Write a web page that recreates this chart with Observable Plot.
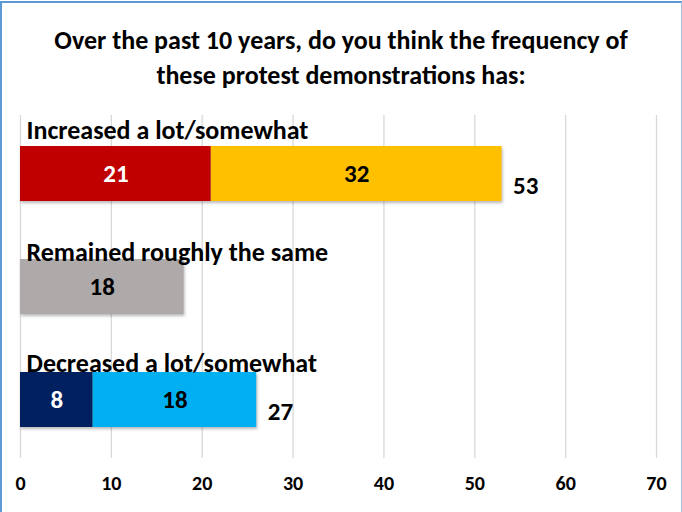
<!DOCTYPE html>
<html>
<head>
<meta charset="utf-8">
<script src="https://cdn.jsdelivr.net/npm/d3@7"></script>
<script src="https://cdn.jsdelivr.net/npm/@observablehq/plot@0.6"></script>
<style>
  html, body { margin: 0; padding: 0; background: #fff; }
  #wrap { position: relative; width: 682px; height: 512px; overflow: hidden; background: #fff;
          font-family: Carlito, Calibri, Lato, sans-serif; }
  #frame { position: absolute; left: 0; top: 1px; right: 0; bottom: -4px; pointer-events: none;
           border-left: 2.5px solid #5b9bd5; border-top: 2.5px solid #5b9bd5; border-right: 1.5px solid #9dc3e6; }
  #title { text-align: center; font-weight: bold; font-size: 26px; line-height: 35px;
           padding-top: 23px; height: 70px; margin-bottom: 12px; color: #000; white-space: nowrap; }
  .bar rect { filter: drop-shadow(1px 2px 1.5px rgba(0,0,0,0.28)); }
</style>
</head>
<body>
<div id="wrap">
  <div id="title">Over the past 10 years, do you think the frequency of<br>these protest demonstrations has:</div>
  <div id="chart"></div>
  <div id="frame"></div>
</div>
<script>
// ---- data ----
const categories = ["Increased a lot/somewhat", "Remained roughly the same", "Decreased a lot/somewhat"];
const firstValues = [21, 18, 8];
const secondValues = [32, null, 18];
const totalLabels = [53, null, 27];
const xTicks = [0, 10, 20, 30, 40, 50, 60, 70];

// ---- styles ----
const firstColors = ["#C00000", "#AEAAAA", "#002060"];
const secondColors = ["#FFC000", null, "#00B0F0"];
const firstTextColors = ["#fff", "#000", "#fff"];
const secondTextColors = ["#000", null, "#000"];

const rows = [];
categories.forEach((c, i) => {
  rows.push({cat: c, key: c + "|1", value: firstValues[i], ink: firstTextColors[i]});
  if (secondValues[i] != null) rows.push({cat: c, key: c + "|2", value: secondValues[i], ink: secondTextColors[i]});
});
const keys = rows.map(d => d.key);
const keyColors = rows.map(d => {
  const i = categories.indexOf(d.cat);
  return d.key.endsWith("|1") ? firstColors[i] : secondColors[i];
});
const totals = categories.map((c, i) => ({
  cat: c,
  label: totalLabels[i],
  end: (firstValues[i] || 0) + (secondValues[i] || 0)
})).filter(d => d.label != null);

const labelDy = [-43, -34, -36];
const catLabelMarks = categories.map((c, i) =>
  Plot.text([c], {x: () => 0, y: d => d, text: d => d, textAnchor: "start", dx: 6, dy: labelDy[i],
    fontSize: 26, fontWeight: "bold", fill: "#000"}));

const chart = Plot.plot({
  width: 682,
  height: 407,
  marginLeft: 20,
  marginRight: 26,
  marginTop: 10,
  marginBottom: 54,
  style: {fontFamily: "Carlito, Calibri, Lato, sans-serif", background: "transparent"},
  x: {domain: [0, 70]},
  y: {domain: categories, paddingInner: 0.51, paddingOuter: 0.26, axis: null},
  color: {domain: keys, range: keyColors},
  marks: [
    Plot.gridX(xTicks, {stroke: "#d9d9d9", strokeOpacity: 1, strokeWidth: 1.3}),
    Plot.axisX(xTicks, {tickSize: 0, tickPadding: 17, fontSize: 20, fontWeight: "bold", fill: "#000", tickFormat: d => String(d)}),
    Plot.barX(rows, {x: "value", y: "cat", fill: "key", order: null, className: "bar"}),
    Plot.text(rows, Plot.stackX({x: "value", y: "cat", order: null, text: d => String(d.value), fill: "ink",
      fontSize: 25, fontWeight: "bold"})),
    Plot.text(totals, {x: "end", y: "cat", text: d => String(d.label), textAnchor: "start", dx: 11, dy: 12,
      fontSize: 25, fontWeight: "bold", fill: "#000"}),
    ...catLabelMarks
  ]
});
document.getElementById("chart").appendChild(chart);
</script>
</body>
</html>
